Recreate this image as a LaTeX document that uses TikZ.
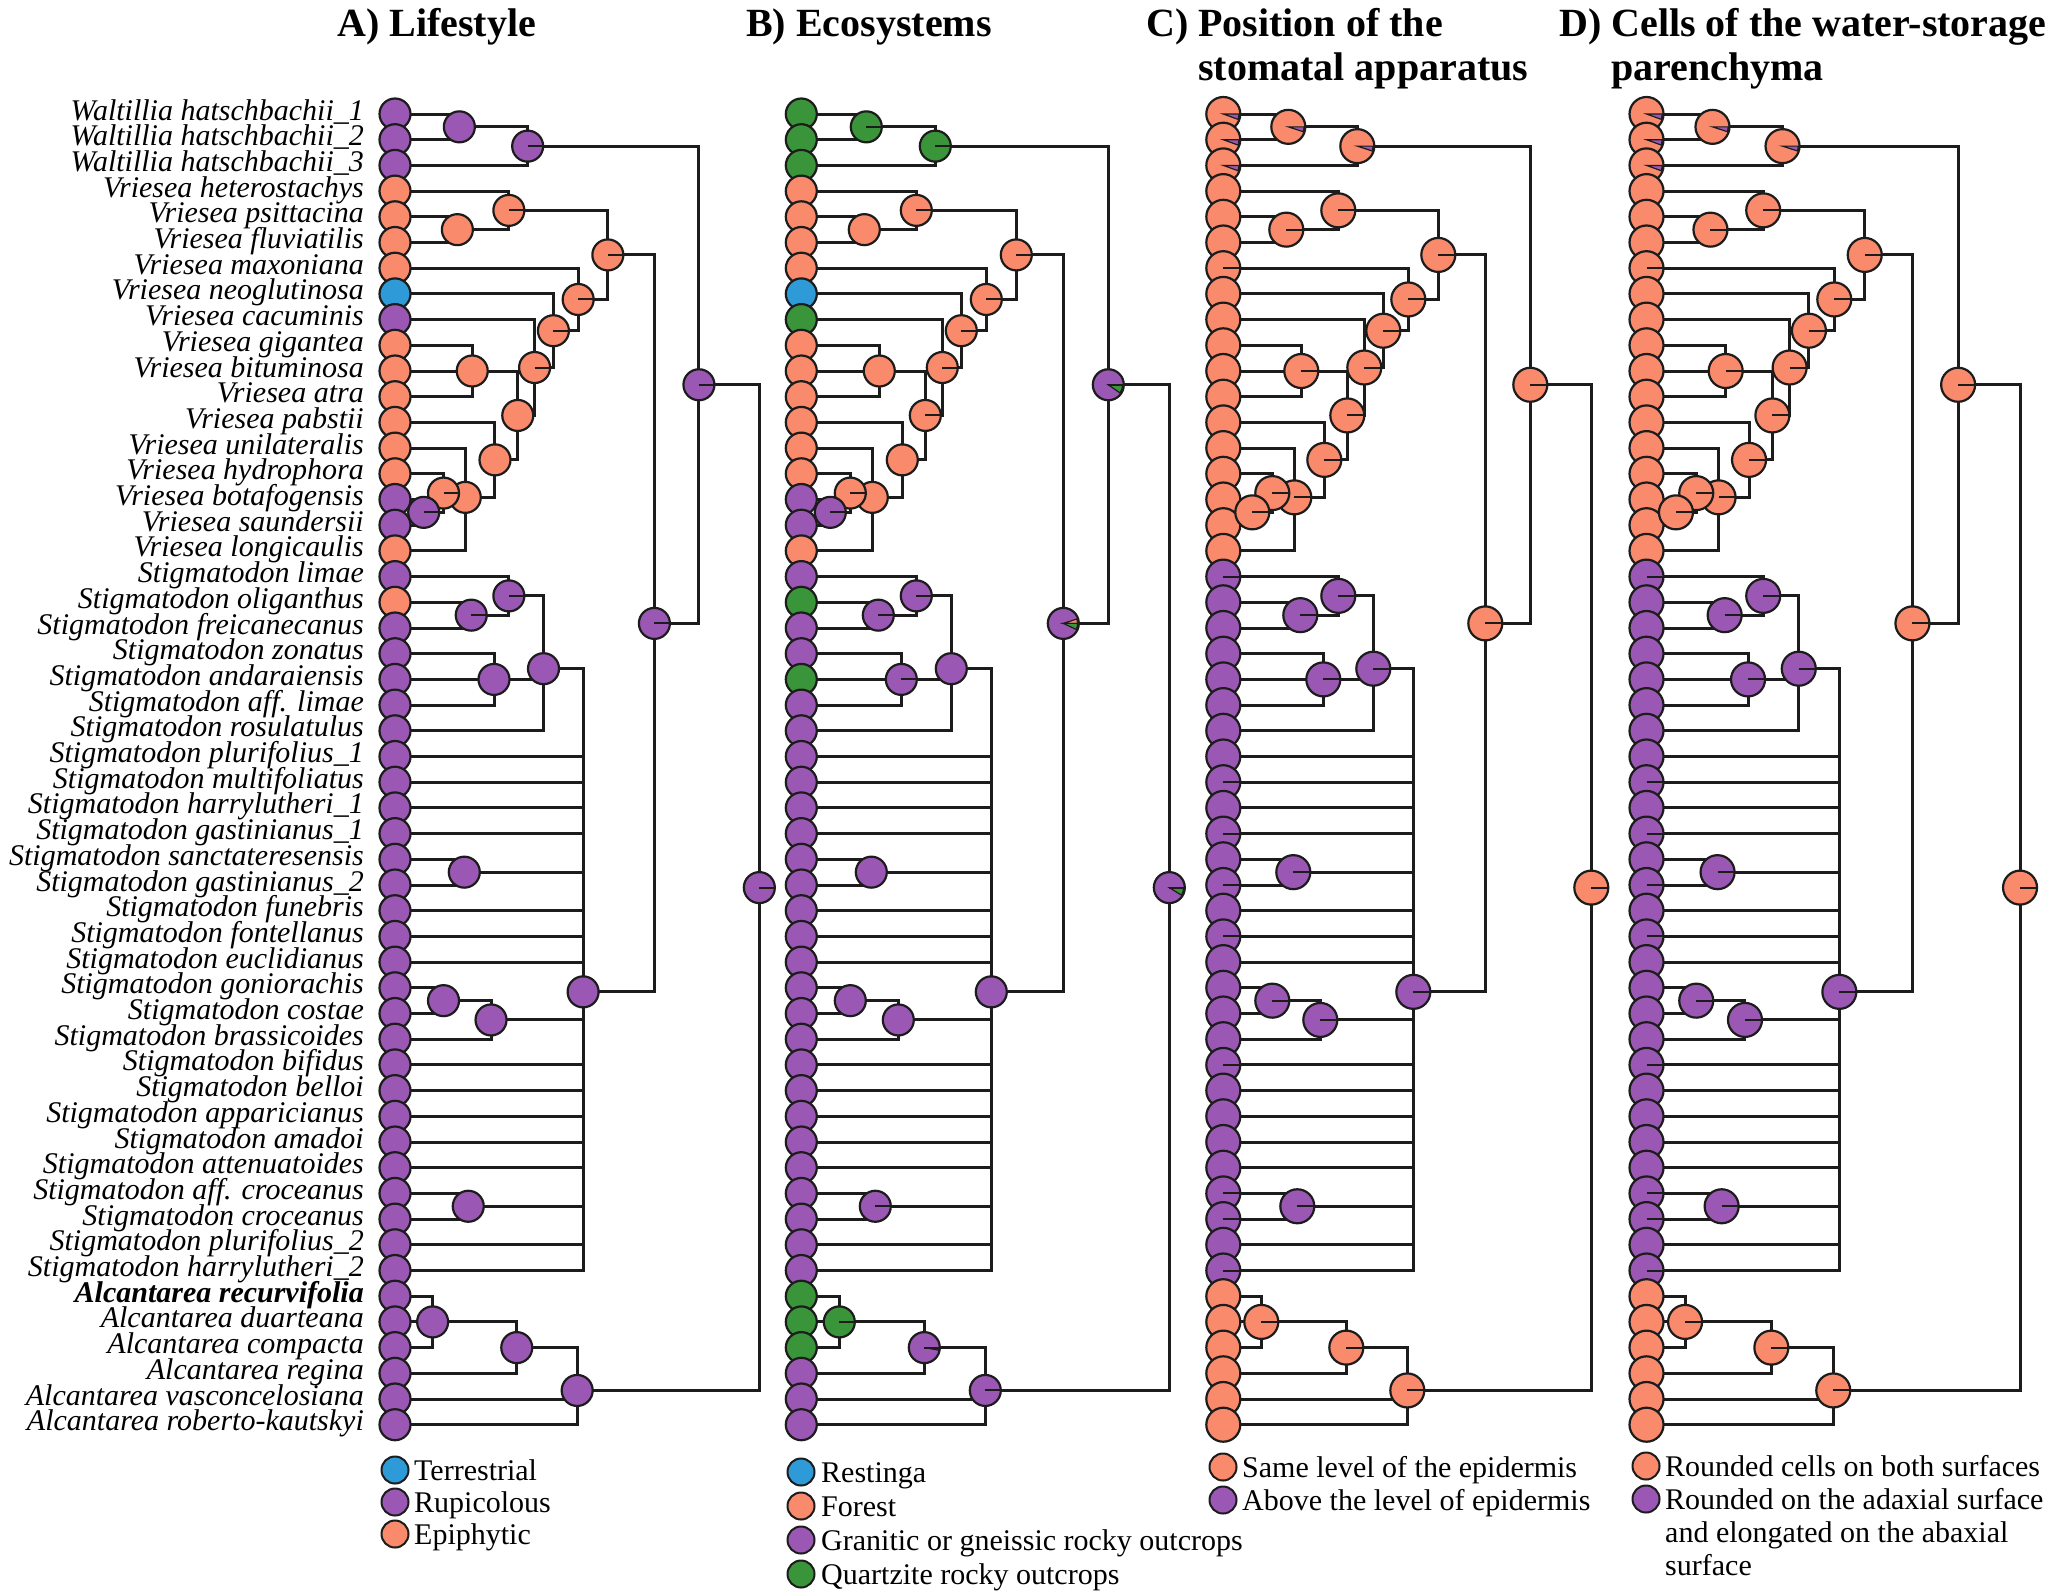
\documentclass[tikz,border=0pt]{standalone}
\usepackage{fontspec}
\setmainfont{Liberation Serif}
\definecolor{cS}{HTML}{F98A6B}
\definecolor{cP}{HTML}{9A58B4}
\definecolor{cB}{HTML}{2E9BD8}
\definecolor{cG}{HTML}{3A953A}
\definecolor{ink}{HTML}{1C1C1C}
\tikzset{
  branch/.style={draw=ink, line width=3pt},
  pienode/.style={circle, draw=ink, line width=2.2pt, inner sep=0pt, minimum size=#1},
  radline/.style={draw=ink, line width=2pt},
  wedgest/.style={draw=ink, line width=1.2pt},
  tiplab/.style={font=\fontsize{30}{36}\selectfont\itshape, inner sep=0pt, anchor=base east},
  ttl/.style={font=\fontsize{40}{48}\selectfont\bfseries, inner sep=0pt, anchor=base west},
  legc/.style={circle, draw=ink, line width=2pt, inner sep=0pt, minimum size=27pt},
  legt/.style={font=\fontsize{30}{36}\selectfont, inner sep=0pt, anchor=base west},
}
\newcommand\curN{}
\newcommand\curR{15}
\newcommand\curRw{14}
\newcommand\RL{\draw[radline] (\curN) -- ++(0:\curR pt);}
\newcommand\WG[3]{\filldraw[wedgest, fill=#3] (\curN) -- ++(#1:\curRw pt) arc[start angle=#1, end angle=#2, radius=\curRw pt] -- cycle;}
% coordinates of one tree: prefix, tip x, scale
\newcommand\TreeCoords[3]{%
  \foreach \i in {1,...,52}{\pgfmathsetmacro\yy{114+25.7*(\i-1)}\coordinate (#1-\i) at (#2,\yy);}
  \foreach \n/\dx/\yy in {a/65/126.85,b/134/146.13,c/63/229.65,d/115/210.38,e/215/254.92,f/185/299.46,g/160/330.71,h/141/367.52,i/124/415.44,j/78/371,k/101/459.88,l/71/497.36,m/49/493.08,n/29/512.35,u1/77/615.15,u2/115/595.88,u3/100/679.4,u4/150/668.69,u5/70/872.15,u6/49/1000.65,u7/97/1019.93,u8/74/1206.25,q/190/991.85,p/262/623.39,r/307/384.76,t1/38/1321.9,t2/123/1347.6,t3/184/1390.43,s/368/887.6}{%
    \pgfmathsetmacro\xx{#2+#3*\dx}\coordinate (#1-\n) at (\xx,\yy);}%
}
\newcommand\TreeEdges[1]{%
  \foreach \p/\c in {s/r,s/t3,r/b,r/p,b/a,b/3,a/1,a/2,p/e,p/q,e/d,e/f,d/4,d/c,c/5,c/6,f/7,f/g,g/8,g/h,h/9,h/i,i/j,i/k,j/10,j/11,j/12,k/13,k/l,l/14,l/m,l/18,m/15,m/n,n/16,n/17,q/u4,q/26,q/27,q/28,q/29,q/u5,q/32,q/33,q/34,q/u7,q/38,q/39,q/40,q/41,q/42,q/u8,q/45,q/46,u4/u2,u4/u3,u4/25,u2/19,u2/u1,u1/20,u1/21,u3/22,u3/23,u3/24,u5/30,u5/31,u7/u6,u7/37,u6/35,u6/36,u8/43,u8/44,t3/t2,t3/51,t3/52,t2/t1,t2/50,t1/47,t1/48,t1/49}
  {\draw[branch] (#1-\p) |- (#1-\c);}%
}
\newcommand\TreeTips[3]{%
  \foreach \col [count=\i] in {#3}{\node[pienode=#2, fill=\col] (#1-tc\i) at (#1-\i) {};}%
}
\newcommand\TreeNodes[3]{%
  \foreach \n/\col/\ex in {#3}{%
    \node[pienode=#2, fill=\col] (#1-nc-\n) at (#1-\n) {};
    \edef\curN{#1-\n}\pgfmathsetmacro\curR{#2/2}\pgfmathsetmacro\curRw{\curR-1.2}%
    \ex
  }%
}
\newcommand\TipExtras[2]{%
  \pgfmathsetmacro\curR{#2/2}\pgfmathsetmacro\curRw{\curR-1.2}%
  \foreach \i in {1,2,3}{\edef\curN{#1-\i}\WG{-20}{0}{cP}}%
  \foreach \i in {7,19,27,29,31,33,38,43,44,46}{\edef\curN{#1-\i}\RL}%
}
\begin{document}
\begin{tikzpicture}[x=1pt,y=-1pt]
\fill[white] (0,0) rectangle (2052,1595);
\useasboundingbox (0,0) rectangle (2052,1595);

% ---------- titles
\node[ttl] (tA) at (337,37) {A) Lifestyle};
\node[ttl] (tB) at (746,37) {B) Ecosystems};
\node[ttl] (tC) at (1146,37) {C) Position of the};
\node[ttl] (tC2) at (1198,81) {stomatal apparatus};
\node[ttl] (tD) at (1559,37) {D) Cells of the water-storage};
\node[ttl] (tD2) at (1611,81) {parenchyma};

% ---------- coordinates
\TreeCoords{A}{395}{0.99}
\TreeCoords{B}{801.3}{1.0}
\TreeCoords{C}{1223.3}{1.0}
\TreeCoords{D}{1646.5}{1.015}

% ---------- branches
\TreeEdges{A}
\TreeEdges{B}
\TreeEdges{C}
\TreeEdges{D}

% ---------- tips
\TreeTips{A}{31pt}{cP,cP,cP,cS,cS,cS,cS,cB,cP,cS,cS,cS,cS,cS,cS,cP,cP,cS,cP,cS,cP,cP,cP,cP,cP,cP,cP,cP,cP,cP,cP,cP,cP,cP,cP,cP,cP,cP,cP,cP,cP,cP,cP,cP,cP,cP,cP,cP,cP,cP,cP,cP}
\TreeTips{B}{31pt}{cG,cG,cG,cS,cS,cS,cS,cB,cG,cS,cS,cS,cS,cS,cS,cP,cP,cS,cP,cG,cP,cP,cG,cP,cP,cP,cP,cP,cP,cP,cP,cP,cP,cP,cP,cP,cP,cP,cP,cP,cP,cP,cP,cP,cP,cP,cG,cG,cG,cP,cP,cP}
\TreeTips{C}{34pt}{cS,cS,cS,cS,cS,cS,cS,cS,cS,cS,cS,cS,cS,cS,cS,cS,cS,cS,cP,cP,cP,cP,cP,cP,cP,cP,cP,cP,cP,cP,cP,cP,cP,cP,cP,cP,cP,cP,cP,cP,cP,cP,cP,cP,cP,cP,cS,cS,cS,cS,cS,cS}
\TreeTips{D}{34pt}{cS,cS,cS,cS,cS,cS,cS,cS,cS,cS,cS,cS,cS,cS,cS,cS,cS,cS,cP,cP,cP,cP,cP,cP,cP,cP,cP,cP,cP,cP,cP,cP,cP,cP,cP,cP,cP,cP,cP,cP,cP,cP,cP,cP,cP,cP,cS,cS,cS,cS,cS,cS}
\TipExtras{C}{34pt}
\TipExtras{D}{34pt}

% ---------- internal nodes (pre-order)
\TreeNodes{A}{31pt}{s/cP/\RL, r/cP/\RL, b/cP/\RL, a/cP/\relax, p/cP/\RL, e/cS/\RL, d/cS/\RL, c/cS/\relax, f/cS/\RL, g/cS/\RL, h/cS/\RL, i/cS/\relax, j/cS/\relax, k/cS/\relax, l/cS/\relax, m/cS/\RL, n/cP/\RL, q/cP/\relax, u4/cP/\relax, u2/cP/\RL, u1/cP/\RL, u3/cP/\relax, u5/cP/\relax, u7/cP/\relax, u6/cP/\relax, u8/cP/\relax, t3/cP/\relax, t2/cP/\relax, t1/cP/\relax}
\TreeNodes{B}{31pt}{s/cP/{\WG{-32}{0}{cG}\RL}, r/cP/{\WG{-35}{0}{cG}\RL}, b/cG/\RL, a/cG/\RL, p/cP/{\WG{0}{18}{cS}\WG{-25}{0}{cG}}, e/cS/\RL, d/cS/\RL, c/cS/\relax, f/cS/\RL, g/cS/\RL, h/cS/\RL, i/cS/\RL, j/cS/\relax, k/cS/\relax, l/cS/\relax, m/cS/\RL, n/cP/\RL, q/cP/\relax, u4/cP/\relax, u2/cP/\RL, u1/cP/\RL, u3/cP/\RL, u5/cP/\relax, u7/cP/\relax, u6/cP/\relax, u8/cP/\RL, t3/cP/\RL, t2/cP/{\WG{-10}{0}{cG}\RL}, t1/cG/\RL}
\TreeNodes{C}{34pt}{s/cS/\RL, r/cS/\RL, b/cS/{\WG{-18}{0}{cP}}, a/cS/{\WG{-18}{0}{cP}}, p/cS/\RL, e/cS/\RL, d/cS/\RL, c/cS/\RL, f/cS/\RL, g/cS/\RL, h/cS/\RL, i/cS/\RL, j/cS/\RL, k/cS/\RL, l/cS/\RL, m/cS/\RL, n/cS/\RL, q/cP/\RL, u4/cP/\RL, u2/cP/\RL, u1/cP/\RL, u3/cP/\RL, u5/cP/\RL, u7/cP/\RL, u6/cP/\RL, u8/cP/\RL, t3/cS/\RL, t2/cS/\RL, t1/cS/\RL}
\TreeNodes{D}{34pt}{s/cS/\RL, r/cS/\RL, b/cS/{\WG{-18}{0}{cP}}, a/cS/{\WG{-18}{0}{cP}}, p/cS/\RL, e/cS/\RL, d/cS/\RL, c/cS/\RL, f/cS/\RL, g/cS/\RL, h/cS/\RL, i/cS/\RL, j/cS/\RL, k/cS/\RL, l/cS/\RL, m/cS/\RL, n/cS/\RL, q/cP/\RL, u4/cP/\RL, u2/cP/\RL, u1/cP/\RL, u3/cP/\RL, u5/cP/\RL, u7/cP/\RL, u6/cP/\RL, u8/cP/\RL, t3/cS/\RL, t2/cS/\RL, t1/cS/\RL}

% ---------- tip labels
\foreach \i/\t in {1/Waltillia hatschbachii\_1, 2/Waltillia hatschbachii\_2, 3/Waltillia hatschbachii\_3, 4/Vriesea heterostachys, 5/Vriesea psittacina, 6/Vriesea fluviatilis, 7/Vriesea maxoniana, 8/Vriesea neoglutinosa, 9/Vriesea cacuminis, 10/Vriesea gigantea, 11/Vriesea bituminosa, 12/Vriesea atra, 13/Vriesea pabstii, 14/Vriesea unilateralis, 15/Vriesea hydrophora, 16/Vriesea botafogensis, 17/Vriesea saundersii, 18/Vriesea longicaulis, 19/Stigmatodon limae, 20/Stigmatodon oliganthus, 21/Stigmatodon freicanecanus, 22/Stigmatodon zonatus, 23/Stigmatodon andaraiensis, 24/Stigmatodon aff. limae, 25/Stigmatodon rosulatulus, 26/Stigmatodon plurifolius\_1, 27/Stigmatodon multifoliatus, 28/Stigmatodon harrylutheri\_1, 29/Stigmatodon gastinianus\_1, 30/Stigmatodon sanctateresensis, 31/Stigmatodon gastinianus\_2, 32/Stigmatodon funebris, 33/Stigmatodon fontellanus, 34/Stigmatodon euclidianus, 35/Stigmatodon goniorachis, 36/Stigmatodon costae, 37/Stigmatodon brassicoides, 38/Stigmatodon bifidus, 39/Stigmatodon belloi, 40/Stigmatodon apparicianus, 41/Stigmatodon amadoi, 42/Stigmatodon attenuatoides, 43/Stigmatodon aff. croceanus, 44/Stigmatodon croceanus, 45/Stigmatodon plurifolius\_2, 46/Stigmatodon harrylutheri\_2, 47/{\bfseries Alcantarea recurvifolia}, 48/Alcantarea duarteana, 49/Alcantarea compacta, 50/Alcantarea regina, 51/Alcantarea vasconcelosiana, 52/Alcantarea roberto-kautskyi}
  {\node[tiplab] (lab\i) at ([shift={(-31pt,-6pt)}]A-\i) {\t};}

% ---------- legends
\node[legc, fill=cB] (lA1) at (395,1470) {};
\node[legc, fill=cP] (lA2) at (395,1502) {};
\node[legc, fill=cS] (lA3) at (395,1534) {};
\node[legt] (tA1) at (414,1480) {Terrestrial};
\node[legt] (tA2) at (414,1512) {Rupicolous};
\node[legt] (tA3) at (414,1544) {Epiphytic};

\node[legc, fill=cB] (lB1) at (801,1472) {};
\node[legc, fill=cS] (lB2) at (801,1506) {};
\node[legc, fill=cP] (lB3) at (801,1540) {};
\node[legc, fill=cG] (lB4) at (801,1574) {};
\node[legt] (tB1) at (821,1482) {Restinga};
\node[legt] (tB2) at (821,1516) {Forest};
\node[legt] (tB3) at (821,1550) {Granitic or gneissic rocky outcrops};
\node[legt] (tB4) at (821,1584) {Quartzite rocky outcrops};

\node[legc, fill=cS] (lC1) at (1223,1467) {};
\node[legc, fill=cP] (lC2) at (1223,1500) {};
\node[legt] (tC1) at (1242,1477) {Same level of the epidermis};
\node[legt] (tC2l) at (1242,1510) {Above the level of epidermis};

\node[legc, fill=cS] (lD1) at (1646,1466) {};
\node[legc, fill=cP] (lD2) at (1646,1499) {};
\node[legt] (tD1) at (1665,1476) {Rounded cells on both surfaces};
\node[legt] (tD2l) at (1665,1509) {Rounded on the adaxial surface};
\node[legt] (tD3l) at (1665,1542) {and elongated on the abaxial};
\node[legt] (tD4l) at (1665,1575) {surface};
\end{tikzpicture}
\end{document}
